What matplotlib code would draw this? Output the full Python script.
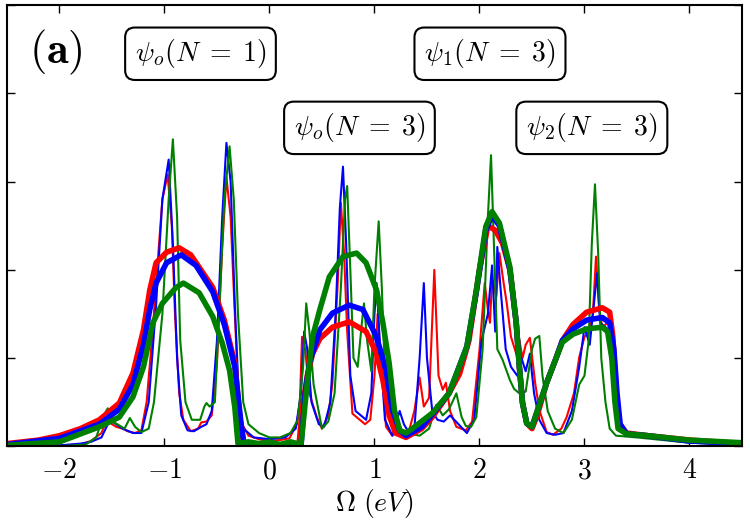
import matplotlib
matplotlib.use('Agg')
import matplotlib.pyplot as plt

plt.rcParams['mathtext.fontset'] = 'cm'
plt.rcParams['font.family'] = 'serif'

# thick curves (broadened)
thick_red_x = [-2.5, -2.2, -2.0, -1.8, -1.62, -1.43, -1.30, -1.2, -1.14, -1.08, -0.98, -0.86, -0.75, -0.67, -0.54, -0.43, -0.33, -0.28, -0.24, 0.0, 0.28,
               0.31, 0.36, 0.41, 0.48, 0.6, 0.76, 0.92, 1.02, 1.08, 1.14, 1.2, 1.3, 1.45, 1.55, 1.71, 1.81, 1.9, 2.0, 2.08, 2.15, 2.22, 2.29, 2.35, 2.38, 2.41, 2.45, 2.5,
               2.55, 2.64, 2.73, 2.79, 2.89, 3.02, 3.17, 3.24, 3.27, 3.30, 3.33, 3.4, 3.6, 4.0, 4.5]
thick_red_y = [0.03, 0.07, 0.12, 0.2, 0.30, 0.49, 0.83, 1.32, 1.77, 2.08, 2.2, 2.25, 2.17, 2.03, 1.8, 1.43, 0.94, 0.3, 0.0, 0.02, 0.0,
               0.4, 0.8, 1.05, 1.22, 1.35, 1.41, 1.3, 1.05, 0.75, 0.35, 0.15, 0.1, 0.2, 0.33, 0.6, 0.82, 1.2, 2.0, 2.5, 2.45, 2.3, 2.0, 1.4, 0.9, 0.49, 0.26, 0.2,
               0.35, 0.72, 1.0, 1.2, 1.38, 1.52, 1.57, 1.52, 1.25, 0.67, 0.26, 0.15, 0.12, 0.07, 0.03]

thick_blue_x = [-2.5, -2.0, -1.62, -1.43, -1.30, -1.2, -1.14, -1.08, -0.98, -0.84, -0.7, -0.54, -0.43, -0.33, -0.27, -0.24, 0.0, 0.30,
                0.34, 0.38, 0.48, 0.6, 0.76, 0.89, 1.02, 1.11, 1.17, 1.24, 1.3, 1.45, 1.55, 1.71, 1.88, 1.97, 2.06, 2.12, 2.19, 2.29, 2.35, 2.38, 2.41, 2.45, 2.5,
                2.64, 2.73, 2.79, 2.89, 3.02, 3.17, 3.24, 3.28, 3.31, 3.34, 3.4, 3.6, 4.0, 4.5]
thick_blue_y = [0.02, 0.09, 0.25, 0.42, 0.7, 1.15, 1.55, 1.85, 2.08, 2.17, 2.05, 1.75, 1.38, 0.9, 0.25, 0.0, 0.02, 0.0,
                0.6, 0.94, 1.32, 1.51, 1.6, 1.55, 1.24, 0.86, 0.41, 0.18, 0.12, 0.22, 0.36, 0.6, 1.13, 1.75, 2.45, 2.62, 2.5, 2.0, 1.4, 0.9, 0.49, 0.26, 0.22,
                0.72, 1.0, 1.2, 1.33, 1.43, 1.46, 1.4, 1.1, 0.6, 0.25, 0.14, 0.12, 0.06, 0.03]

thick_green_x = [-2.5, -2.0, -1.62, -1.43, -1.3, -1.2, -1.11, -1.02, -0.89, -0.82, -0.67, -0.54, -0.45, -0.38, -0.33, -0.30, -0.2, -0.1, 0.0, 0.1, 0.2, 0.3,
                 0.36, 0.41, 0.48, 0.57, 0.70, 0.83, 0.92, 1.02, 1.08, 1.14, 1.19, 1.24, 1.3, 1.36, 1.55, 1.71, 1.88, 1.97, 2.06, 2.12, 2.19, 2.29, 2.35, 2.38, 2.41, 2.45, 2.5,
                 2.64, 2.73, 2.79, 2.89, 3.02, 3.17, 3.22, 3.26, 3.29, 3.32, 3.4, 3.6, 4.0, 4.5]
thick_green_y = [0.01, 0.05, 0.22, 0.33, 0.56, 0.9, 1.4, 1.62, 1.8, 1.85, 1.74, 1.47, 1.17, 0.86, 0.44, 0.03, 0.05, 0.03, 0.05, 0.02, 0.05, 0.02,
                 0.72, 1.24, 1.55, 1.92, 2.15, 2.19, 2.08, 1.77, 1.4, 0.94, 0.41, 0.18, 0.15, 0.2, 0.375, 0.6, 1.13, 1.77, 2.49, 2.66, 2.53, 2.03, 1.4, 0.9, 0.49, 0.26, 0.22,
                 0.72, 1.0, 1.18, 1.27, 1.33, 1.35, 1.3, 1.0, 0.5, 0.2, 0.14, 0.12, 0.07, 0.04]

# thin curves (sharp)
thin_red_x = [-2.5, -2.0, -1.8, -1.7, -1.6, -1.55, -1.5, -1.46, -1.4, -1.35, -1.28, -1.22, -1.17, -1.12, -1.07, -1.02, -0.97, -0.93, -0.9, -0.86, -0.82,
              -0.75, -0.68, -0.65, -0.6, -0.55, -0.5, -0.45, -0.41, -0.37, -0.33, -0.3, -0.26, -0.2, -0.1, 0.0, 0.1, 0.19, 0.26, 0.29, 0.31, 0.34, 0.38,
              0.45, 0.5, 0.56, 0.6, 0.65, 0.68, 0.71, 0.74, 0.79, 0.86, 0.91, 0.96, 1.0, 1.03, 1.06, 1.11, 1.17, 1.22, 1.28, 1.33, 1.38, 1.43, 1.47,
              1.52, 1.57, 1.61, 1.65, 1.68, 1.72, 1.78, 1.87, 1.93, 2.0, 2.05, 2.08, 2.1, 2.12, 2.16, 2.19, 2.23, 2.26, 2.3, 2.35, 2.38, 2.41, 2.44,
              2.48, 2.53, 2.57, 2.64, 2.7, 2.78, 2.83, 2.9, 2.95, 3.0, 3.04, 3.08, 3.11, 3.14, 3.17, 3.22, 3.26, 3.29, 3.32, 3.4, 3.6, 4.0, 4.5]
thin_red_y = [0.0, 0.01, 0.02, 0.06, 0.15, 0.3, 0.25, 0.22, 0.2, 0.17, 0.15, 0.18, 0.5, 1.2, 2.0, 2.8, 3.08, 2.5, 1.5, 0.6, 0.3,
              0.17, 0.2, 0.27, 0.28, 0.35, 0.94, 2.26, 3.05, 2.6, 1.5, 0.7, 0.25, 0.12, 0.08, 0.06, 0.07, 0.09, 0.25, 0.5, 1.24, 1.1, 0.6,
              0.33, 0.2, 0.35, 0.72, 1.85, 2.76, 2.2, 1.3, 0.37, 0.3, 0.25, 0.3, 0.8, 1.5, 1.0, 0.22, 0.12, 0.18, 0.15, 0.18, 0.4, 0.78, 0.45,
              0.55, 2.0, 0.8, 0.64, 0.72, 0.4, 0.22, 0.18, 0.28, 1.09, 1.85, 1.55, 1.4, 1.89, 1.7, 2.19, 1.85, 1.62, 1.24, 1.05, 1.2, 1.0, 1.15,
              1.23, 0.72, 0.41, 0.16, 0.13, 0.2, 0.33, 0.6, 1.01, 1.24, 1.3, 1.5, 2.15, 1.55, 1.35, 1.4, 1.3, 0.7, 0.25, 0.13, 0.1, 0.05, 0.02]

thin_blue_x = [-2.5, -2.0, -1.8, -1.7, -1.6, -1.52, -1.46, -1.4, -1.3, -1.22, -1.15, -1.08, -1.02, -0.96, -0.92, -0.88, -0.84, -0.78, -0.72, -0.65,
               -0.6, -0.55, -0.5, -0.45, -0.41, -0.37, -0.33, -0.29, -0.25, -0.15, 0.0, 0.15, 0.25, 0.3, 0.33, 0.36, 0.4, 0.47, 0.52, 0.58, 0.63,
               0.67, 0.7, 0.73, 0.77, 0.82, 0.87, 0.92, 0.97, 1.0, 1.02, 1.05, 1.1, 1.17, 1.24, 1.28, 1.33, 1.38, 1.43, 1.47, 1.5, 1.55, 1.6, 1.66,
               1.72, 1.8, 1.88, 1.95, 2.02, 2.08, 2.12, 2.15, 2.17, 2.2, 2.25, 2.3, 2.36, 2.4, 2.44, 2.48, 2.52, 2.57, 2.64, 2.72, 2.8, 2.88, 2.95,
               3.0, 3.05, 3.08, 3.12, 3.15, 3.2, 3.25, 3.29, 3.33, 3.4, 3.6, 4.0, 4.5]
thin_blue_y = [0.0, 0.01, 0.03, 0.05, 0.1, 0.3, 0.25, 0.2, 0.15, 0.15, 0.5, 1.6, 2.8, 3.25, 2.3, 1.0, 0.35, 0.18, 0.17, 0.22,
               0.25, 0.4, 1.2, 2.6, 3.44, 3.0, 1.6, 0.5, 0.2, 0.1, 0.08, 0.1, 0.2, 0.6, 1.3, 1.1, 0.5, 0.25, 0.22, 0.5, 1.5,
               2.7, 3.17, 2.3, 0.8, 0.4, 0.35, 0.3, 0.6, 1.5, 1.85, 1.2, 0.3, 0.12, 0.4, 0.25, 0.15, 0.2, 1.0, 1.85, 1.0, 0.4, 0.3, 0.28,
               0.35, 0.25, 0.15, 0.3, 1.2, 1.5, 2.05, 1.3, 2.26, 1.8, 1.1, 0.9, 0.8, 1.0, 0.85, 1.05, 0.6, 0.3, 0.15, 0.13, 0.15, 0.4, 0.9,
               1.35, 1.15, 1.5, 1.96, 1.4, 1.35, 1.3, 0.8, 0.25, 0.12, 0.1, 0.04, 0.02]

thin_green_x = [-2.5, -2.0, -1.75, -1.65, -1.58, -1.54, -1.5, -1.45, -1.38, -1.33, -1.28, -1.22, -1.15, -1.1, -1.02, -0.96, -0.92, -0.88, -0.85,
                -0.8, -0.74, -0.66, -0.62, -0.6, -0.57, -0.52, -0.48, -0.43, -0.38, -0.34, -0.3, -0.25, -0.2, -0.1, 0.0, 0.1, 0.2, 0.27, 0.32,
                0.35, 0.38, 0.42, 0.5, 0.56, 0.62, 0.68, 0.72, 0.74, 0.77, 0.8, 0.84, 0.88, 0.9, 0.93, 0.97, 1.0, 1.04, 1.07, 1.1, 1.15, 1.22,
                1.3, 1.43, 1.52, 1.59, 1.65, 1.71, 1.78, 1.83, 1.87, 1.92, 1.97, 2.03, 2.08, 2.11, 2.14, 2.17, 2.22, 2.29, 2.33, 2.38, 2.44,
                2.5, 2.53, 2.57, 2.6, 2.65, 2.72, 2.8, 2.88, 2.95, 3.0, 3.04, 3.07, 3.1, 3.13, 3.16, 3.2, 3.24, 3.3, 3.5, 4.0, 4.5]
thin_green_y = [0.0, 0.0, 0.02, 0.1, 0.35, 0.43, 0.28, 0.25, 0.2, 0.32, 0.22, 0.16, 0.2, 0.5, 1.5, 2.8, 3.48, 2.6, 1.2,
                0.5, 0.3, 0.3, 0.45, 0.49, 0.45, 0.5, 1.5, 2.8, 3.4, 2.8, 1.5, 0.5, 0.25, 0.15, 0.1, 0.1, 0.15, 0.3, 0.9,
                1.62, 1.3, 0.7, 0.2, 0.28, 0.6, 1.8, 2.8, 2.95, 2.0, 1.0, 0.9, 1.4, 1.62, 1.2, 0.85, 1.8, 2.55, 1.8, 0.8, 0.3, 0.2,
                0.15, 0.12, 0.2, 0.47, 0.35, 0.42, 0.6, 0.33, 0.23, 0.22, 0.33, 1.1, 2.6, 3.3, 2.2, 1.1, 0.98, 0.75, 0.65, 0.6, 0.62,
                1.1, 1.22, 1.25, 0.8, 0.4, 0.2, 0.15, 0.3, 0.7, 0.8, 1.2, 2.3, 2.97, 2.2, 1.0, 0.5, 0.2, 0.12, 0.1, 0.04, 0.02]

xticks = [-2, -1, 0, 1, 2, 3, 4]
yticks = [0, 1, 2, 3, 4, 5]

labels = [r'$\psi_o(N\;=\;1)$', r'$\psi_1(N\;=\;3)$', r'$\psi_o(N\;=\;3)$', r'$\psi_2(N\;=\;3)$']
label_x = [-0.657, 2.10, 0.857, 3.07]
label_y = [4.45, 4.45, 3.61, 3.61]

fig = plt.figure(figsize=(7.5, 5.25), dpi=100)
ax = fig.add_axes([0.0093, 0.150, 0.980, 0.840])

ax.plot(thin_red_x, thin_red_y, color='red', lw=1.5)
ax.plot(thin_blue_x, thin_blue_y, color='blue', lw=1.5)
ax.plot(thin_green_x, thin_green_y, color='green', lw=1.5)
ax.plot(thick_red_x, thick_red_y, color='red', lw=4)
ax.plot(thick_blue_x, thick_blue_y, color='blue', lw=4)
ax.plot(thick_green_x, thick_green_y, color='green', lw=4)

ax.set_xlim(-2.5, 4.5)
ax.set_ylim(0, 5)
ax.set_xticks(xticks)
ax.set_xticklabels(['$%d$' % t for t in xticks], fontsize=20)
ax.set_yticks(yticks)
ax.set_yticklabels([])
ax.tick_params(direction='in', length=6, width=1, top=True, right=True, pad=8)
for s in ax.spines.values():
    s.set_linewidth(1.5)

ax.set_xlabel(r'$\Omega\ (eV)$', fontsize=20, labelpad=2)

for txt, lx, ly in zip(labels, label_x, label_y):
    ax.text(lx, ly, txt, fontsize=20, ha='center', va='center',
            bbox=dict(boxstyle='round,pad=0.35', fc='white', ec='black', lw=1.5))

ax.text(-2.03, 4.47, r'$\mathbf{(a)}$', fontsize=32, ha='center', va='center')

fig.savefig('out.png', dpi=100)
